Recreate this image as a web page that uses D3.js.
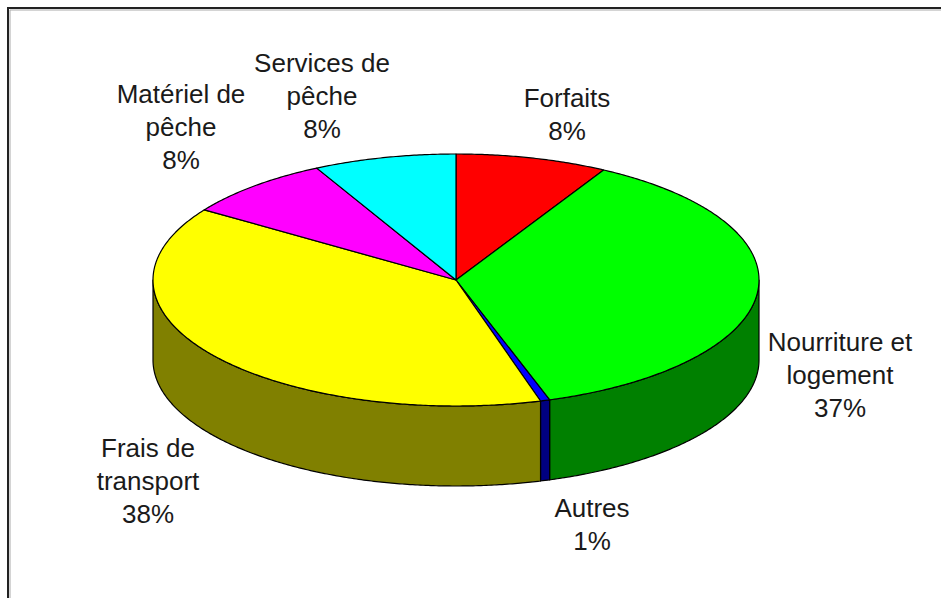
<!DOCTYPE html>
<html>
<head>
<meta charset="utf-8">
<script src="https://cdn.jsdelivr.net/npm/d3@7"></script>
<style>
  html, body { margin: 0; padding: 0; background: #fff; }
  svg { display: block; }
  text { font-family: "Liberation Sans", Arial, sans-serif; font-size: 26px; fill: #1a1a1a; }
</style>
</head>
<body>
<svg id="chart" width="941" height="598"></svg>
<script>
// ---- data ----
const categories = ["Forfaits", "Nourriture et logement", "Autres", "Frais de transport", "Matériel de pêche", "Services de pêche"];
const values = [8.1, 36.9, 0.5, 38.9, 8.0, 7.6];
const pctLabels = ["8%", "37%", "1%", "38%", "8%", "8%"];
const labelLines = [["Forfaits"], ["Nourriture et", "logement"], ["Autres"], ["Frais de", "transport"], ["Matériel de", "pêche"], ["Services de", "pêche"]];

// ---- styles / layout ----
const topColors = ["#ff0000", "#00ff00", "#0000ff", "#ffff00", "#ff00ff", "#00ffff"];
const sideColors = ["#800000", "#008000", "#000080", "#808000", "#800080", "#008080"];
const labelPos = [[567, 107], [840, 351], [592, 517], [148, 457], [181, 103], [322, 72]];
const lineH = 33;

const cx = 456, cy = 280, rx = 303, ry = 126, depth = 80;

const svg = d3.select("#chart");

// frame
svg.append("path").attr("d", "M8,598 V8 H941").attr("fill", "none").attr("stroke", "#222").attr("stroke-width", 2);
svg.append("path").attr("d", "M10,598 V10 H941").attr("fill", "none").attr("stroke", "#aaa").attr("stroke-width", 1);

const pie = d3.pie().sort(null).value(d => d);
const arcs = pie(values);

const px = a => cx + rx * Math.sin(a);
const py = a => cy - ry * Math.cos(a);

function arcPoints(a0, a1) {
  const n = Math.max(2, Math.ceil((a1 - a0) / (Math.PI / 360)));
  const pts = [];
  for (let i = 0; i <= n; i++) {
    const a = a0 + (a1 - a0) * i / n;
    pts.push([px(a), py(a)]);
  }
  return pts;
}
const line = d3.line();

// side walls (front half only)
const g = svg.append("g");
arcs.forEach((d, i) => {
  const b0 = Math.max(d.startAngle, Math.PI / 2);
  const b1 = Math.min(d.endAngle, 3 * Math.PI / 2);
  if (b1 <= b0) return;
  const topPts = arcPoints(b0, b1);
  const botPts = topPts.map(p => [p[0], p[1] + depth]).reverse();
  g.append("path")
    .attr("d", line(topPts.concat(botPts)) + "Z")
    .attr("fill", sideColors[i])
    .attr("stroke", "#000")
    .attr("stroke-width", 1.2)
    .attr("stroke-linejoin", "round");
});

// top faces
arcs.forEach((d, i) => {
  const pts = [[cx, cy]].concat(arcPoints(d.startAngle, d.endAngle));
  g.append("path")
    .attr("d", line(pts) + "Z")
    .attr("fill", topColors[i])
    .attr("stroke", "#000")
    .attr("stroke-width", 1.2)
    .attr("stroke-linejoin", "round");
});

// labels
const lg = svg.append("g");
arcs.forEach((d, i) => {
  const lines = labelLines[i].concat([pctLabels[i]]);
  const t = lg.append("text").attr("text-anchor", "middle");
  lines.forEach((s, k) => {
    t.append("tspan").attr("x", labelPos[i][0]).attr("y", labelPos[i][1] + k * lineH).text(s);
  });
});
</script>
</body>
</html>
